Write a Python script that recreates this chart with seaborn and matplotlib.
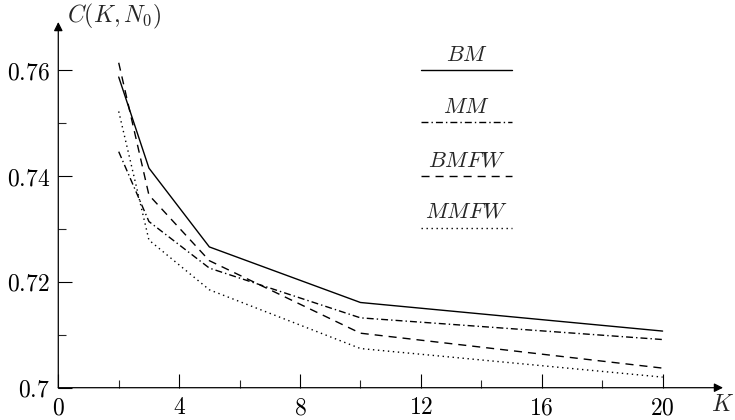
import matplotlib
matplotlib.use("Agg")
import matplotlib.pyplot as plt
import seaborn as sns
import pandas as pd

# ---- data ----
K = [2, 3, 5, 10, 20]
BM = [0.7587, 0.7415, 0.7266, 0.7161, 0.7107]
MM = [0.7446, 0.7314, 0.7226, 0.7132, 0.7091]
BMFW = [0.7614, 0.7364, 0.7240, 0.7103, 0.7037]
MMFW = [0.7522, 0.7279, 0.7185, 0.7074, 0.7020]
methods = ["BM", "MM", "BMFW", "MMFW"]
x_major = [0, 4, 8, 12, 16, 20]
x_minor = [2, 6, 10, 14, 18]
y_major = [0.70, 0.72, 0.74, 0.76]
y_minor = [0.71, 0.73, 0.75]
y_labels = ["0.7", "0.72", "0.74", "0.76"]

series = {"BM": BM, "MM": MM, "BMFW": BMFW, "MMFW": MMFW}
df = pd.concat(
    [pd.DataFrame({"K": K, "C": v, "method": m}) for m, v in series.items()],
    ignore_index=True,
)

sns.set_style("ticks")
plt.rcParams["mathtext.fontset"] = "cm"
plt.rcParams["font.family"] = ["DejaVu Serif"]

dash_map = {
    "BM": "",
    "MM": (5.0, 2.2, 1.0, 2.2),
    "BMFW": (5.8, 4.3),
    "MMFW": (1.0, 2.6),
}

fig = plt.figure(figsize=(7.35, 4.2), dpi=100)
ax = fig.add_axes([0.0793, 0.0769, 0.9044, 0.8707])

sns.lineplot(data=df, x="K", y="C", style="method", style_order=methods,
             dashes=dash_map, color="black", linewidth=1.0, legend=False, ax=ax)

ax.set_xlim(0, 22.0)
ax.set_ylim(0.70, 0.7691)
ax.set_xticks(x_major)
ax.set_xticks(x_minor, minor=True)
ax.set_xticklabels([f"${v}$" for v in x_major])
ax.set_yticks(y_major)
ax.set_yticks(y_minor, minor=True)
ax.set_yticklabels([f"${v}$" for v in y_labels])
ax.tick_params(which="major", direction="in", length=10, width=0.8,
               labelsize=17, pad=6, colors="black")
ax.tick_params(which="minor", direction="in", length=5.8, width=0.8)
ax.set_xlabel("")
ax.set_ylabel("")

for s in ax.spines.values():
    s.set_visible(False)

# axes with arrows
arrow = dict(arrowstyle="-|>", color="black", lw=0.9, mutation_scale=13,
             shrinkA=0, shrinkB=0)
ax.annotate("", xy=(1.0, 0), xytext=(0, 0), xycoords="axes fraction",
            arrowprops=arrow, annotation_clip=False)
ax.annotate("", xy=(0, 1.0), xytext=(0, 0), xycoords="axes fraction",
            arrowprops=arrow, annotation_clip=False)

ax.text(0.013, 1.014, r"$C(K,N_0)$", transform=ax.transAxes,
        ha="left", va="center", fontsize=17, clip_on=False)
ax.text(1.0, -0.047, r"$K$", transform=ax.transAxes,
        ha="center", va="center", fontsize=17, clip_on=False)

# legend: label above its line sample
leg_text_y = [0.9098, 0.7684, 0.6226, 0.4813]
leg_line_y = [0.8688, 0.7257, 0.5797, 0.4359]
for m, ty, ly in zip(methods, leg_text_y, leg_line_y):
    ax.text(0.6144, ty, f"${m}$", transform=ax.transAxes, ha="center",
            va="center", fontsize=16)
    ln, = ax.plot([0.5457, 0.6821], [ly, ly], transform=ax.transAxes,
                  color="black", linewidth=1.0, clip_on=False)
    if dash_map[m]:
        ln.set_dashes(dash_map[m])

fig.savefig("out.png", dpi=100)
